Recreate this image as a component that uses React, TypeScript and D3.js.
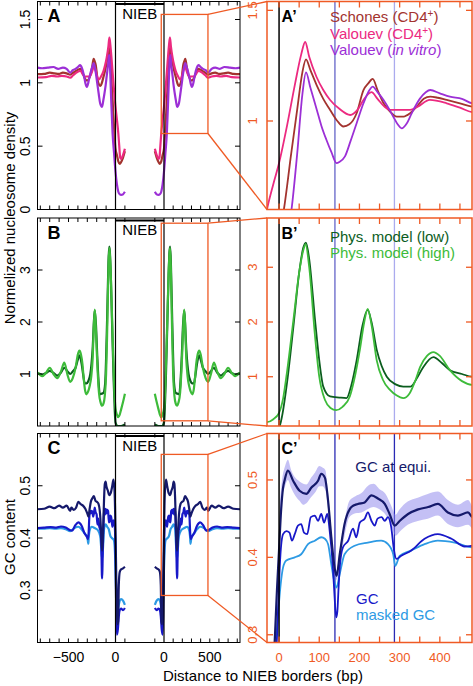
import React from "react";
import * as d3 from "d3";

type Pt = [number, number];
type Band = [number, number, number];

// ---------- DATA (distance to NIEB border in bp, negative = inside NIEB) ----------
const schonesCD4: Pt[] = [
  [-100, 0.46], [-80, 0.41], [-60, 0.375], [-45, 0.36], [-30, 0.38], [-15, 0.43], [0, 0.48], [12, 0.6],
  [30, 0.85], [45, 1.05], [58, 1.22], [67, 1.278], [78, 1.23], [94, 1.16], [110, 1.1], [127, 1.05],
  [145, 1.0], [160, 0.975], [175, 0.985], [193, 1.035], [210, 1.14], [222, 1.17], [233, 1.19], [245, 1.14],
  [260, 1.08], [275, 1.045], [293, 1.02], [310, 1.02], [326, 1.035], [345, 1.07], [360, 1.1], [376, 1.11],
  [395, 1.105], [417, 1.095], [450, 1.08], [482, 1.065], [520, 1.075], [560, 1.08], [600, 1.07],
  [650, 1.075], [700, 1.08], [760, 1.07], [830, 1.068],
];
const valouevCD4: Pt[] = [
  [-100, 0.48], [-80, 0.43], [-60, 0.4], [-50, 0.41], [-40, 0.5], [-30, 0.6], [-15, 0.71], [0, 0.81],
  [20, 0.98], [40, 1.17], [55, 1.3], [65, 1.357], [75, 1.29], [93, 1.2], [110, 1.14], [127, 1.095],
  [150, 1.055], [177, 1.027], [195, 1.05], [210, 1.095], [230, 1.13], [245, 1.1], [262, 1.065], [276, 1.05],
  [300, 1.05], [326, 1.05], [345, 1.065], [375, 1.095], [417, 1.08], [450, 1.06], [482, 1.04], [520, 1.05],
  [570, 1.055], [620, 1.05], [680, 1.055], [740, 1.045], [830, 1.042],
];
const valouevVitro: Pt[] = [
  [-100, 0.14], [-80, 0.12], [-60, 0.115], [-45, 0.12], [-30, 0.14], [-15, 0.2], [0, 0.3], [15, 0.44],
  [31, 0.6], [45, 0.85], [58, 1.12], [67, 1.22], [78, 1.15], [94, 1.05], [105, 0.98], [118, 0.914],
  [130, 0.86], [143, 0.81], [150, 0.815], [164, 0.84], [178, 0.91], [193, 0.99], [210, 1.08], [225, 1.14],
  [233, 1.155], [245, 1.13], [260, 1.095], [275, 1.05], [284, 1.02], [295, 0.985], [305, 0.967], [318, 0.99],
  [330, 1.035], [350, 1.1], [365, 1.13], [376, 1.14], [400, 1.125], [425, 1.11], [455, 1.1], [482, 1.08],
  [520, 1.11], [560, 1.12], [610, 1.11], [660, 1.125], [720, 1.12], [780, 1.115], [830, 1.12],
];
const physLow: Pt[] = [
  [-100, 0.03], [-60, 0.0], [-20, 0.0], [0, 0.07], [8, 0.3], [20, 0.9], [35.6, 1.91], [50, 2.9], [60, 3.35],
  [67, 3.45], [75, 3.15], [89.6, 2.03], [100, 1.3], [110, 0.82], [127, 0.64], [150, 0.62], [168, 0.61],
  [180, 0.85], [193, 1.3], [208, 1.95], [220.5, 2.22], [230, 2.0], [243, 1.49], [255, 1.2], [268, 1.0],
  [290, 0.86], [309, 0.82], [327, 0.82], [345, 1.0], [359, 1.18], [384, 1.36], [405, 1.25], [425, 1.12],
  [455, 1.05], [482, 1.0], [510, 1.05], [545, 1.12], [580, 1.03], [620, 0.97], [660, 1.02], [700, 1.06],
  [740, 1.02], [780, 0.99], [830, 1.02],
];
const physHigh: Pt[] = [
  [-100, 0.62], [-80, 0.46], [-60, 0.32], [-45, 0.22], [-30, 0.17], [-15, 0.22], [0, 0.34], [10, 0.6],
  [20, 1.1], [35.6, 2.03], [50, 2.9], [60, 3.3], [66, 3.42], [75, 3.0], [89.6, 1.73], [100, 1.0], [114, 0.58],
  [128, 0.43], [142, 0.39], [158, 0.45], [176, 0.64], [190, 1.05], [201, 1.49], [212, 2.0], [220.5, 2.24],
  [230, 1.95], [243, 1.3], [258, 0.95], [276, 0.76], [292, 0.66], [309, 0.61], [325, 0.7], [340, 0.95],
  [351, 1.18], [368, 1.38], [384, 1.45], [400, 1.38], [425, 1.12], [455, 0.92], [482, 0.85], [510, 0.98],
  [545, 1.22], [580, 1.05], [620, 0.92], [660, 1.0], [700, 1.12], [740, 1.02], [780, 0.96], [830, 1.03],
];
const gcEqui: Pt[] = [
  [-100, 0.345], [-80, 0.342], [-60, 0.34], [-45, 0.335], [-35, 0.31], [-28, 0.24], [-20, 0.235], [-12, 0.28],
  [-5, 0.36], [0, 0.41], [5, 0.46], [10, 0.49], [14, 0.5], [22, 0.512], [35, 0.499], [51, 0.486], [68, 0.482],
  [80, 0.49], [97, 0.499], [105, 0.508], [114, 0.503], [122, 0.473], [130, 0.426], [138, 0.387], [143, 0.376],
  [151, 0.404], [163, 0.443], [180, 0.465], [196, 0.469], [213, 0.471], [230, 0.48], [246, 0.476], [263, 0.469],
  [275, 0.456], [288, 0.441], [300, 0.447], [321, 0.456], [346, 0.462], [371, 0.465], [395, 0.469], [420, 0.458],
  [445, 0.454], [470, 0.458], [482, 0.452], [520, 0.462], [560, 0.458], [600, 0.462], [650, 0.457], [700, 0.46],
  [760, 0.456], [830, 0.455],
];
const gcEquiSpread: Band[] = [
  [2, 0.445, 0.472], [8, 0.478, 0.502], [15, 0.492, 0.518], [22, 0.5, 0.526], [30, 0.49, 0.513], [40, 0.48, 0.503],
  [51, 0.473, 0.498], [60, 0.468, 0.495], [68, 0.47, 0.494], [80, 0.478, 0.503], [90, 0.484, 0.51], [100, 0.492, 0.518],
  [108, 0.492, 0.516], [115, 0.487, 0.513], [122, 0.462, 0.483], [130, 0.417, 0.437], [143, 0.371, 0.383],
  [152, 0.396, 0.413], [165, 0.433, 0.453], [175, 0.452, 0.473], [190, 0.457, 0.479], [205, 0.458, 0.483],
  [220, 0.462, 0.492], [235, 0.465, 0.495], [250, 0.462, 0.488], [265, 0.455, 0.482], [278, 0.443, 0.468],
  [290, 0.428, 0.455], [300, 0.433, 0.462], [320, 0.442, 0.472], [345, 0.447, 0.477], [370, 0.45, 0.482],
  [395, 0.454, 0.485], [420, 0.443, 0.474], [445, 0.439, 0.468], [470, 0.442, 0.474], [480, 0.437, 0.466],
];
const gcContent: Pt[] = [
  [-100, 0.266], [-80, 0.262], [-60, 0.265], [-45, 0.262], [-35, 0.25], [-25, 0.225], [-15, 0.215], [-8, 0.26],
  [-2, 0.34], [3, 0.4], [10, 0.43], [18, 0.434], [26, 0.432], [32, 0.4215], [39, 0.43], [47, 0.441], [55, 0.443],
  [62, 0.432], [70, 0.43], [79, 0.452], [89, 0.454], [97, 0.447], [105, 0.456], [112, 0.445], [120, 0.456],
  [126, 0.434], [134, 0.387], [138, 0.35], [142, 0.3226], [145, 0.33], [148, 0.36], [151, 0.387], [159, 0.413],
  [172, 0.4215], [184, 0.437], [192, 0.426], [201, 0.445], [213, 0.45], [221, 0.458], [230, 0.447], [238, 0.441],
  [245, 0.45], [255, 0.452], [263, 0.447], [271, 0.452], [279, 0.439], [286, 0.409], [292, 0.398], [304, 0.402],
  [329, 0.409], [362, 0.424], [395, 0.43], [429, 0.424], [462, 0.414], [482, 0.415], [530, 0.42], [580, 0.422],
  [630, 0.42], [690, 0.421], [760, 0.42], [830, 0.419],
];
const maskedGC: Pt[] = [
  [-100, 0.272], [-80, 0.28], [-60, 0.283], [-45, 0.28], [-35, 0.272], [-25, 0.262], [-15, 0.268], [-8, 0.29],
  [-2, 0.33], [4, 0.365], [10, 0.387], [18, 0.396], [39, 0.4], [55, 0.404], [72, 0.417], [89, 0.4215],
  [105, 0.426], [114, 0.424], [122, 0.417], [130, 0.391], [137, 0.37], [142.6, 0.361], [151, 0.3785],
  [163, 0.404], [188, 0.415], [221, 0.419], [254, 0.4215], [271, 0.417], [284, 0.404], [289, 0.389],
  [300, 0.402], [329, 0.409], [362, 0.417], [395, 0.4215], [437, 0.419], [482, 0.413], [530, 0.417],
  [580, 0.419], [640, 0.418], [700, 0.419], [770, 0.418], [830, 0.418],
];

const overviewTicksBp = [100, 200, 300, 400, 500, 600, 700, 800];
const overviewInnerTickBp = -100;
const overviewLabelsBp = [0, 500];
const zoomTicksBp = [0, 50, 100, 150, 200, 250, 300, 350, 400, 450];
const zoomLabelsBp = [0, 100, 200, 300, 400];
const markerBp = [139, 287];

// ---------- STYLE / LAYOUT ----------
const FONT = "'Liberation Sans', Arial, Helvetica, sans-serif";
const ORANGE = "#ef5a24";
const LEFT = 37.5, RIGHT = 240, ZL = 267, ZR = 472;

const xLm = d3.scaleLinear().domain([0, 830]).range([115.5, 37.5]);
const xRm = d3.scaleLinear().domain([0, 830]).range([164, 240]);
const xZ = d3.scaleLinear().domain([-30, 480]).range([ZL, ZR]);

type Series = { data: Pt[]; color: string; w: number; zw: number };

type PanelCfg = {
  letter: string;
  top: number;
  bottom: number;
  yDom: [number, number];
  yTicks: number[];
  zDom: [number, number];
  zTicks: number[];
  series: Series[];
  band?: Band[];
  markerColors: string[];
  legend: React.ReactNode;
};

const panels: PanelCfg[] = [
  {
    letter: "A",
    top: 1.5,
    bottom: 209.5,
    yDom: [0, 1.642],
    yTicks: [0, 0.5, 1, 1.5],
    zDom: [0.6, 1.54],
    zTicks: [1, 1.5],
    series: [
      { data: schonesCD4, color: "#a3332f", w: 2.2, zw: 1.8 },
      { data: valouevCD4, color: "#ec2a80", w: 2.2, zw: 1.8 },
      { data: valouevVitro, color: "#9c2fd6", w: 2.2, zw: 1.8 },
    ],
    markerColors: ["#6464c8", "#ababee"],
    legend: (
      <g fontSize={15}>
        <text x={330} y={22} fill="#a3332f">
          Schones (CD4<tspan dy={-5} fontSize={10}>+</tspan>
          <tspan dy={5}>)</tspan>
        </text>
        <text x={330} y={38.7} fill="#ec2a80">
          Valouev (CD4<tspan dy={-5} fontSize={10}>+</tspan>
          <tspan dy={5}>)</tspan>
        </text>
        <text x={330} y={55.3} fill="#9c2fd6">
          Valouev (<tspan fontStyle="italic">in vitro</tspan>)
        </text>
      </g>
    ),
  },
  {
    letter: "B",
    top: 218,
    bottom: 426,
    yDom: [0, 4],
    yTicks: [1, 2, 3],
    zDom: [0.1, 3.9],
    zTicks: [1, 2, 3],
    series: [
      { data: physLow, color: "#0b5d1e", w: 2.2, zw: 1.8 },
      { data: physHigh, color: "#3dbb3a", w: 2.2, zw: 1.8 },
    ],
    markerColors: ["#6464c8", "#ababee"],
    legend: (
      <g fontSize={15}>
        <text x={330} y={241.7} fill="#0b5d1e">Phys. model (low)</text>
        <text x={330} y={258.3} fill="#3dbb3a">Phys. model (high)</text>
      </g>
    ),
  },
  {
    letter: "C",
    top: 433.5,
    bottom: 642.5,
    yDom: [0.2, 0.6],
    yTicks: [0.3, 0.4, 0.5],
    zDom: [0.29, 0.56],
    zTicks: [0.3, 0.4, 0.5],
    series: [
      { data: maskedGC, color: "#2d9ae4", w: 2.2, zw: 1.8 },
      { data: gcContent, color: "#1818c8", w: 2.2, zw: 1.8 },
      { data: gcEqui, color: "#15196b", w: 2.2, zw: 2.2 },
    ],
    band: gcEquiSpread,
    markerColors: ["#2a2ab4", "#2a2ab4"],
    legend: (
      <g fontSize={15}>
        <text x={355.3} y={472.3} fill="#15196b">GC at equi.</text>
        <text x={356} y={604} fill="#1818c8">GC</text>
        <text x={356} y={619.5} fill="#2d9ae4">masked GC</text>
      </g>
    ),
  },
];

function RotLabel({ x, y, text, fill, size }: { x: number; y: number; text: string; fill: string; size: number }) {
  return (
    <text
      transform={`translate(${x},${y}) rotate(-90)`}
      textAnchor="middle"
      dy="0.35em"
      fill={fill}
      fontSize={size}
    >
      {text}
    </text>
  );
}

function Panel({ p, i, last }: { p: PanelCfg; i: number; last: boolean }) {
  const yL = d3.scaleLinear().domain(p.yDom).range([p.bottom, p.top]);
  const yZ = d3.scaleLinear().domain(p.zDom).range([p.bottom, p.top]);
  const lineL = d3.line<Pt>().x((d) => xLm(d[0])).y((d) => yL(d[1])).curve(d3.curveMonotoneX);
  const lineR = d3.line<Pt>().x((d) => xRm(d[0])).y((d) => yL(d[1])).curve(d3.curveMonotoneX);
  const lineZ = d3.line<Pt>().x((d) => xZ(d[0])).y((d) => yZ(d[1])).curve(d3.curveMonotoneX);
  const bandZ = d3
    .area<Band>()
    .x((d) => xZ(d[0]))
    .y0((d) => yZ(d[1]))
    .y1((d) => yZ(d[2]))
    .curve(d3.curveMonotoneX);

  const x0L = xLm(0);
  const x0R = xRm(0);
  const clipL = `clipL${i}`;
  const clipZ = `clipZ${i}`;
  const h = p.bottom - p.top;

  const tickXs = [
    ...overviewTicksBp.map((t) => xLm(t)),
    xLm(overviewInnerTickBp),
    ...overviewTicksBp.map((t) => xRm(t)),
    xRm(overviewInnerTickBp),
  ];

  const bx0 = xRm(xZ.domain()[0]);
  const bx1 = xRm(xZ.domain()[1]);
  const by0 = yL(p.zDom[1]);
  const by1 = yL(p.zDom[0]);

  return (
    <g>
      <defs>
        <clipPath id={clipL}>
          <rect x={LEFT} y={p.top} width={RIGHT - LEFT} height={h} />
        </clipPath>
        <clipPath id={clipZ}>
          <rect x={ZL} y={p.top} width={ZR - ZL} height={h} />
        </clipPath>
      </defs>

      {/* ---------- overview panel ---------- */}
      <g clipPath={`url(#${clipL})`} fill="none">
        {p.series.map((s, k) => (
          <g key={k} stroke={s.color} strokeWidth={s.w} strokeLinejoin="round">
            <path d={lineL([...s.data].reverse()) || ""} />
            <path d={lineR(s.data) || ""} />
          </g>
        ))}
      </g>
      <rect x={LEFT} y={p.top} width={RIGHT - LEFT} height={h} fill="none" stroke="#000" strokeWidth={1} />
      <line x1={x0L} x2={x0L} y1={p.top} y2={p.bottom} stroke="#000" strokeWidth={1.2} />
      <line x1={x0R} x2={x0R} y1={p.top} y2={p.bottom} stroke="#000" strokeWidth={1.2} />
      <line x1={x0L} x2={x0R} y1={p.top + 2.5} y2={p.top + 2.5} stroke="#000" strokeWidth={2.2} />
      <text x={(x0L + x0R) / 2} y={p.top + 17} textAnchor="middle" fontSize={15} fill="#000">
        NIEB
      </text>
      <text x={47.5} y={p.top + 20.5} fontSize={18} fontWeight="bold" fill="#000">
        {p.letter}
      </text>
      <g stroke="#000" strokeWidth={1}>
        {tickXs.map((x, k) => (
          <g key={k}>
            <line x1={x} x2={x} y1={p.top} y2={p.top + 4} />
            <line x1={x} x2={x} y1={p.bottom} y2={p.bottom - 4} />
          </g>
        ))}
        {p.yTicks.map((v, k) => (
          <g key={k}>
            <line x1={LEFT} x2={LEFT + 5} y1={yL(v)} y2={yL(v)} />
            <line x1={RIGHT} x2={RIGHT - 5} y1={yL(v)} y2={yL(v)} />
          </g>
        ))}
      </g>
      {p.yTicks.map((v, k) => (
        <RotLabel key={k} x={25} y={yL(v)} text={String(v)} fill="#000" size={14} />
      ))}
      {last && (
        <g fontSize={14} textAnchor="middle" fill="#000">
          {overviewLabelsBp.map((t, k) => (
            <text key={"l" + k} x={xLm(t)} y={661.5}>
              {t === 0 ? "0" : "\u2212" + t}
            </text>
          ))}
          {overviewLabelsBp.map((t, k) => (
            <text key={"r" + k} x={xRm(t)} y={661.5}>
              {String(t)}
            </text>
          ))}
        </g>
      )}

      {/* zoom box + connectors */}
      <rect x={bx0} y={by0} width={bx1 - bx0} height={by1 - by0} fill="none" stroke={ORANGE} strokeWidth={1.3} />
      <line x1={bx1} y1={by0} x2={ZL} y2={p.top} stroke={ORANGE} strokeWidth={1.3} />
      <line x1={bx1} y1={by1} x2={ZL} y2={p.bottom} stroke={ORANGE} strokeWidth={1.3} />

      {/* ---------- zoom panel ---------- */}
      <g clipPath={`url(#${clipZ})`}>
        {markerBp.map((m, k) => (
          <line key={k} x1={xZ(m)} x2={xZ(m)} y1={p.top} y2={p.bottom} stroke={p.markerColors[k]} strokeWidth={1.3} />
        ))}
        {p.band && <path d={bandZ(p.band) || ""} fill="#8a82ec" fillOpacity={0.5} stroke="none" />}
        {p.series.map((s, k) => (
          <path key={k} d={lineZ(s.data) || ""} fill="none" stroke={s.color} strokeWidth={s.zw} strokeLinejoin="round" />
        ))}
        <line x1={xZ(0)} x2={xZ(0)} y1={p.top} y2={p.bottom} stroke="#000" strokeWidth={1.5} />
      </g>
      {p.legend}
      <text x={281.5} y={p.top + 20.5} fontSize={16} fontWeight="bold" fill="#000">
        {p.letter + "\u2019"}
      </text>
      <rect x={ZL} y={p.top} width={ZR - ZL} height={h} fill="none" stroke={ORANGE} strokeWidth={1.5} />
      <g stroke={ORANGE} strokeWidth={1.3}>
        {zoomTicksBp.map((t, k) => (
          <g key={k}>
            <line x1={xZ(t)} x2={xZ(t)} y1={p.top} y2={p.top + 6} />
            <line x1={xZ(t)} x2={xZ(t)} y1={p.bottom} y2={p.bottom - 6} />
          </g>
        ))}
        {p.zTicks.map((v, k) => (
          <g key={k}>
            <line x1={ZL} x2={ZL + 6} y1={yZ(v)} y2={yZ(v)} />
            <line x1={ZR} x2={ZR - 6} y1={yZ(v)} y2={yZ(v)} />
          </g>
        ))}
      </g>
      {p.zTicks.map((v, k) => (
        <RotLabel key={k} x={252} y={yZ(v)} text={String(v)} fill={ORANGE} size={13} />
      ))}
      {last && (
        <g fontSize={13} textAnchor="middle" fill={ORANGE}>
          {zoomLabelsBp.map((t, k) => (
            <text key={k} x={xZ(t)} y={661.5}>
              {String(t)}
            </text>
          ))}
        </g>
      )}
    </g>
  );
}

export default function App() {
  return (
    <svg
      width={473}
      height={686}
      style={{ position: "absolute", left: 0, top: 0, background: "#fff" }}
      fontFamily={FONT}
    >
      <rect x={0} y={0} width={473} height={686} fill="#fff" />
      {panels.map((p, i) => (
        <Panel key={i} p={p} i={i} last={i === panels.length - 1} />
      ))}
      <RotLabel x={10} y={218} text="Normelized nucleosome density" fill="#000" size={15} />
      <RotLabel x={10} y={537} text="GC content" fill="#000" size={15} />
      <text x={263} y={681} textAnchor="middle" fontSize={15} fill="#000">
        Distance to NIEB borders (bp)
      </text>
    </svg>
  );
}
